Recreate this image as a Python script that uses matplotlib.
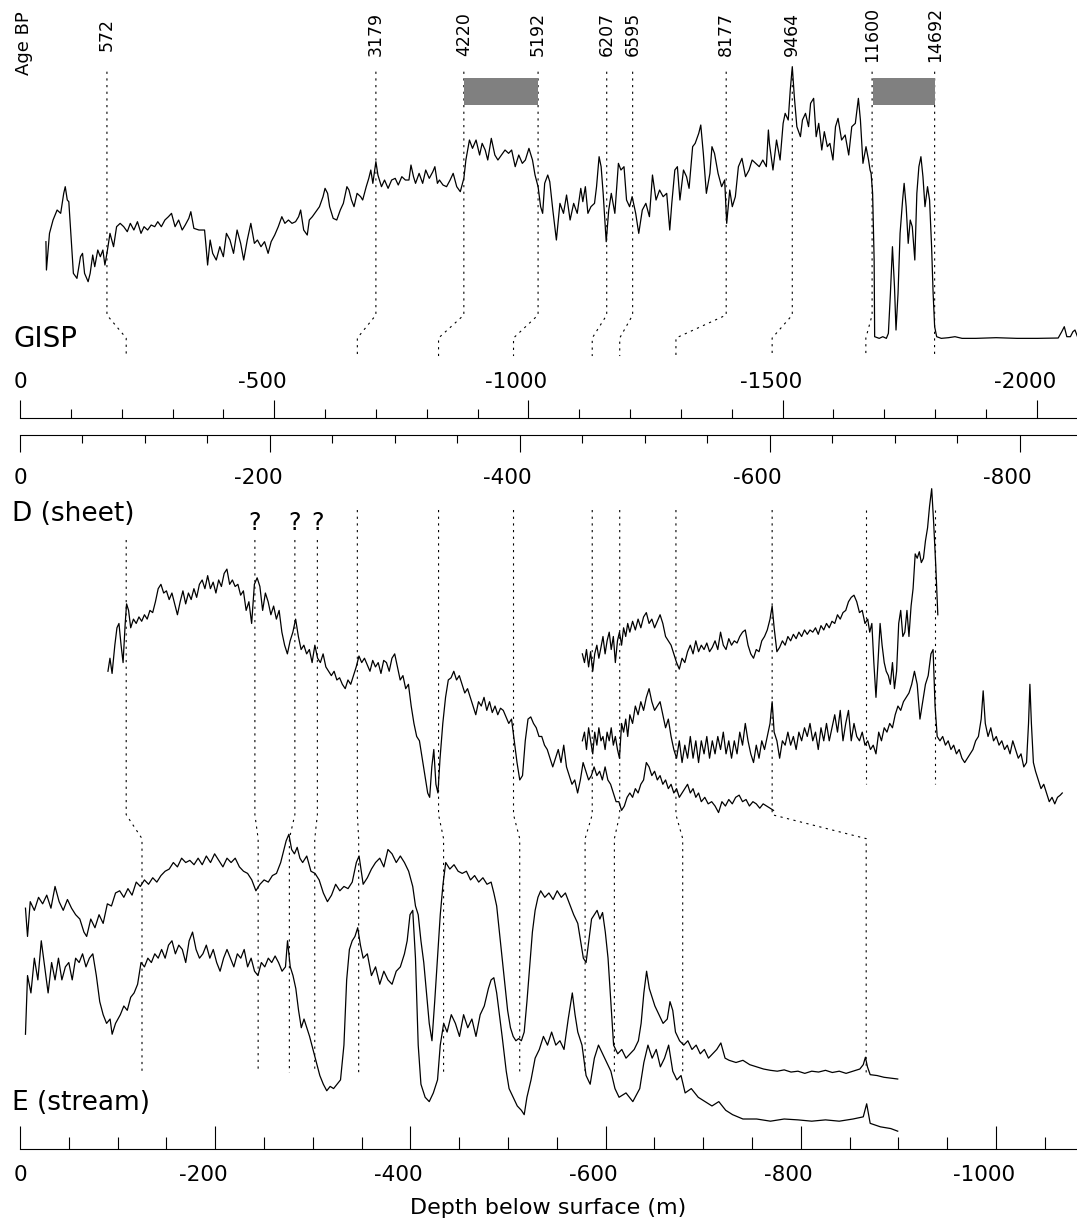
import numpy as np
import matplotlib
matplotlib.use("Agg")
import matplotlib.pyplot as plt
from matplotlib.ticker import MultipleLocator
from matplotlib.transforms import blended_transform_factory, offset_copy

# depth scales (m below surface, drawn as negative numbers)
gisp_ticks = [0, -500, -1000, -1500, -2000]
sheet_ticks = [0, -200, -400, -600, -800]
stream_ticks = [0, -200, -400, -600, -800, -1000]

# GISP age markers: age BP, GISP depth (m), matching depth in core D (m)
ages = [572, 3179, 4220, 5192, 6207, 6595, 8177, 9464, 11600, 14692]
age_gisp_depth = [171, 700, 873, 1019, 1154, 1205, 1389, 1519, 1676, 1799]
age_sheet_depth = [85, 270, 335, 395, 458, 480, 525, 602, 677, 732]
grey_bars = [(873, 1019), (1677, 1799)]

# tie points D (sheet) -> E (stream), depths in m
sheet_ties = [85, 188, 220, 238, 270, 335, 395, 458, 480, 525, 602, 677, 732]
stream_ties = [125, 244, 276, 302, 347, 434, 512, 579, 609, 679, 867, None, None]
late_start = [85, 188, 220, 238]
question_ties = [188, 220, 238]

# GISP record (depth m, relative value)
gisp_curve = [
    (51, 45.5), (52, 37), (58, 48), (65, 52), (73, 55), (80, 54), (86, 60), (89, 62), (93, 58), (96, 57.5),
    (100, 48), (105, 36), (112, 34.5), (119, 41), (123, 42), (127, 36), (134, 33.5), (138, 36), (143, 41.5), (147, 38),
    (153, 43), (158, 41), (163, 43), (167, 38.5), (171, 42), (177, 48), (184, 44), (190, 50), (197, 51), (204, 50),
    (211, 48.5), (217, 51), (224, 49), (231, 51.5), (238, 48), (244, 50), (251, 49), (258, 50.5), (265, 50), (271, 51.5),
    (278, 50), (285, 52), (292, 53), (298, 54), (305, 50), (312, 52), (319, 49), (325, 50.5), (332, 52.5), (336, 54.5),
    (342, 49.5), (352, 49), (363, 49), (366, 44), (369, 38.5), (374, 46), (379, 42), (386, 40), (393, 44), (400, 41),
    (406, 48), (413, 46), (420, 42), (427, 49), (434, 45), (440, 40), (447, 46), (454, 51), (461, 45), (467, 46),
    (474, 44), (481, 45.5), (488, 42), (494, 45.5), (501, 47.5), (508, 50), (515, 53), (521, 51), (528, 52), (535, 51),
    (542, 51.5), (548, 53), (552, 55), (558, 49), (565, 47.5), (569, 52), (575, 53), (582, 54.5), (589, 56), (596, 59),
    (600, 61.5), (605, 60), (609, 56), (616, 52.5), (623, 52), (630, 55), (636, 57), (643, 62), (647, 61), (652, 58),
    (657, 56), (663, 60), (670, 59), (674, 58), (681, 62), (686, 64.5), (690, 67), (694, 63), (700, 69.5), (704, 65.5),
    (711, 62), (717, 64), (724, 61.5), (731, 64), (738, 64.5), (744, 62.5), (751, 65), (758, 64), (765, 64), (769, 68.5),
    (774, 65), (778, 63), (785, 66), (792, 63), (798, 67), (805, 64.5), (812, 66.5), (816, 68), (821, 63), (825, 64),
    (832, 62.5), (839, 62), (846, 64), (852, 66), (859, 62), (866, 60.5), (873, 64.5), (877, 70), (884, 76), (890, 73.5),
    (897, 76), (904, 71.5), (909, 75), (915, 73), (920, 70), (927, 76.5), (934, 71.5), (940, 70), (947, 71.5), (954, 73),
    (961, 72), (967, 73), (974, 68), (981, 71.5), (988, 69), (994, 70), (1001, 73.5), (1008, 70), (1013, 65.5), (1019, 62),
    (1024, 56), (1028, 54), (1032, 63), (1038, 65.5), (1042, 63.5), (1048, 55), (1055, 46), (1062, 57), (1069, 54), (1075, 59.5),
    (1082, 52), (1089, 57), (1096, 54), (1103, 61.5), (1107, 57.5), (1112, 62), (1117, 54), (1123, 56), (1130, 57), (1134, 62),
    (1139, 71), (1143, 68), (1147, 60), (1153, 45.5), (1158, 55), (1163, 60), (1170, 54), (1177, 69), (1182, 67), (1188, 68),
    (1193, 58), (1199, 56), (1204, 59), (1211, 54), (1217, 48), (1224, 55), (1231, 57), (1238, 53), (1244, 65.5), (1251, 58),
    (1258, 61), (1265, 59), (1272, 60), (1278, 49), (1282, 57), (1288, 67), (1293, 68), (1298, 58), (1305, 67), (1311, 65),
    (1316, 61.5), (1323, 74), (1328, 75), (1335, 78), (1339, 80.5), (1344, 72), (1350, 60), (1357, 66), (1361, 74), (1366, 72),
    (1373, 66), (1380, 62), (1386, 64), (1390, 51), (1396, 61), (1401, 56), (1407, 59), (1413, 68), (1420, 70.5), (1427, 65),
    (1434, 67), (1440, 70), (1447, 69), (1454, 68), (1461, 70), (1468, 68), (1472, 79), (1474, 75), (1481, 67), (1488, 76),
    (1495, 70), (1501, 81), (1505, 84), (1511, 82), (1515, 91), (1519, 98), (1523, 89), (1528, 80), (1535, 77), (1539, 82),
    (1545, 84), (1551, 80), (1555, 87), (1561, 88.5), (1566, 77), (1571, 81), (1577, 73), (1582, 78.5), (1588, 74), (1593, 75),
    (1599, 70), (1604, 80), (1609, 82.5), (1616, 76), (1623, 77.5), (1630, 71.5), (1636, 80), (1643, 81), (1649, 88.5), (1653, 82),
    (1658, 69), (1664, 74), (1669, 70), (1672, 67), (1674, 66), (1677, 60), (1680, 40), (1681, 17), (1690, 16.5), (1697, 17),
    (1704, 16.5), (1708, 18), (1712, 30), (1716, 44), (1720, 32), (1723, 19), (1727, 30), (1731, 48), (1736, 58), (1739, 63),
    (1743, 56), (1747, 45), (1751, 52), (1755, 50), (1760, 40), (1764, 60), (1768, 68), (1772, 71), (1776, 65), (1780, 56),
    (1785, 62), (1789, 58), (1793, 44), (1796, 30), (1799, 20), (1803, 17), (1812, 16.5), (1826, 16.7), (1839, 17), (1853, 16.5),
    (1880, 16.5), (1920, 16.7), (1961, 16.5), (2001, 16.5), (2042, 16.6), (2049, 18.5), (2054, 20), (2059, 17), (2066, 17), (2071, 18.5),
    (2075, 19), (2080, 17),
]

# core D (sheet): three records (depth m, relative value)
sheet_a = [
    (70.4, 56), (72.0, 59), (73.7, 55.5), (75.9, 62), (77.6, 66), (79.2, 67), (80.9, 62), (82.5, 58), (84.2, 67), (85.3, 71.5),
    (86.9, 70), (88.6, 66), (90.8, 68), (93.0, 67), (95.2, 68.5), (97.4, 67.5), (99.6, 69), (101.8, 68), (104.0, 70), (106.2, 69.5),
    (108.4, 72), (110.6, 75), (112.8, 76), (115.0, 74), (117.2, 74.5), (119.4, 72.5), (121.6, 74), (123.8, 71.5), (126.0, 69), (128.2, 72),
    (130.4, 74.5), (132.6, 71.5), (134.8, 74), (137.0, 72.5), (139.2, 75), (141.4, 73), (143.6, 76), (145.8, 77), (148.0, 75), (150.2, 78),
    (152.4, 75), (154.6, 76.5), (156.8, 74), (159.0, 77), (161.2, 75.5), (163.4, 78.5), (165.6, 79.5), (167.8, 76), (170.0, 77), (172.2, 75.5),
    (174.4, 76), (176.6, 73.5), (178.8, 74.5), (181.0, 70), (183.2, 72), (185.4, 67), (187.6, 76), (189.8, 77.5), (192.0, 75.5), (194.2, 70),
    (196.4, 74), (198.6, 72), (200.8, 69), (203.0, 71), (205.2, 68), (207.4, 70), (209.6, 65), (211.8, 62), (214.0, 60), (216.2, 63),
    (218.4, 65), (220.6, 68), (222.8, 64), (225.0, 61), (227.2, 62), (229.4, 60), (231.6, 61), (233.8, 58), (236.0, 62), (238.2, 59),
    (240.4, 58), (242.6, 60), (244.8, 57), (247.0, 56), (249.2, 55), (251.4, 56), (253.6, 54), (255.8, 54.5), (258.0, 53), (260.3, 52),
    (262.5, 54), (264.7, 53), (266.9, 55), (269.1, 57), (271.3, 59.5), (273.5, 58), (275.7, 59), (277.9, 57.5), (280.1, 56), (282.3, 58.5),
    (284.5, 57), (286.7, 58), (288.9, 55.5), (291.1, 58.5), (293.3, 58), (295.5, 56), (297.7, 59), (299.9, 60), (302.1, 57), (304.3, 54),
    (306.5, 55), (308.7, 52), (310.9, 53), (313.1, 48), (315.3, 44), (317.5, 41), (319.7, 40), (321.9, 36), (324.1, 32), (326.3, 28),
    (327.9, 27), (329.6, 34), (331.2, 38), (332.9, 30), (334.5, 28), (336.2, 36), (338.4, 44), (340.6, 50), (342.8, 54), (345.0, 54.5),
    (347.2, 56), (349.4, 54), (351.6, 55), (353.8, 53), (356.0, 51), (358.2, 52), (360.4, 50), (362.6, 48), (364.8, 46), (367.0, 49),
    (369.2, 48), (371.4, 50), (373.6, 47), (375.8, 49), (378.0, 46.5), (380.2, 48), (382.4, 46), (384.6, 47.5), (386.8, 47), (389.0, 45.5),
    (391.2, 44), (393.4, 45), (395.6, 40), (397.8, 35), (400.0, 31), (402.2, 32), (404.4, 40), (406.6, 45), (408.8, 45.5), (411.0, 44),
    (413.2, 43), (415.4, 41), (417.6, 41), (419.8, 39), (422.0, 38), (424.2, 36), (426.4, 34), (428.6, 36), (430.8, 38), (433.0, 35),
    (435.2, 39), (437.4, 34), (439.6, 32), (441.8, 30), (444.0, 31), (446.3, 28), (448.5, 31), (450.7, 35), (452.9, 33), (455.1, 31),
    (457.3, 32), (459.5, 34), (461.7, 32), (463.9, 33), (466.1, 31), (468.3, 34), (470.5, 31), (472.7, 30), (474.9, 28), (477.1, 26),
    (479.3, 26), (481.5, 24), (483.7, 25), (485.9, 27), (488.1, 28), (490.3, 27), (492.5, 29), (494.7, 28), (496.9, 30), (499.1, 31),
    (501.3, 35), (503.5, 34), (505.7, 32), (507.9, 33), (510.1, 31), (512.3, 32), (514.5, 30), (516.7, 31), (518.9, 29), (521.1, 30),
    (523.3, 28), (525.5, 29), (527.7, 27), (529.9, 28), (532.1, 29), (534.3, 30), (536.5, 28), (538.7, 29), (540.9, 27), (543.1, 28),
    (545.3, 26), (548.1, 27), (550.8, 25.5), (553.6, 26), (556.3, 25), (559.1, 23.5), (561.8, 26), (564.6, 25), (567.3, 26.5), (570.1, 25.5),
    (572.8, 27), (575.6, 27.5), (578.3, 26), (581.1, 26.5), (583.8, 25), (586.6, 26), (589.3, 25.5), (592.1, 24.5), (594.8, 25.5), (597.6, 25),
    (600.3, 24.5), (603.1, 24),
]

sheet_b = [
    (450.1, 60), (451.8, 58), (453.4, 61), (455.1, 57), (456.7, 60.5), (458.4, 56), (460.0, 60), (461.7, 62), (463.3, 59), (465.0, 61.5),
    (466.6, 64), (468.3, 60), (469.9, 63), (471.6, 65), (473.2, 61), (474.9, 64), (476.5, 58), (478.2, 63), (479.8, 65), (481.5, 62),
    (483.1, 66), (484.8, 64), (486.4, 67), (488.1, 65), (490.3, 67.5), (492.5, 65.5), (494.7, 68), (496.9, 66), (499.1, 68.5), (501.3, 69.5),
    (503.5, 67), (505.7, 68), (507.9, 66), (510.1, 67.5), (512.3, 69), (514.5, 67), (516.7, 64), (518.9, 63), (521.1, 62), (523.3, 60),
    (525.5, 58), (527.7, 56.5), (529.9, 59), (532.1, 58), (534.3, 60.5), (536.5, 62), (538.7, 60), (540.9, 63), (543.1, 60.5), (545.3, 62),
    (547.5, 61), (549.7, 62.5), (551.9, 60.5), (554.1, 61.5), (556.3, 63), (558.5, 61), (560.7, 65), (562.9, 62), (565.1, 61), (567.3, 63.5),
    (569.5, 62), (571.7, 63), (573.9, 62.5), (576.1, 64), (578.3, 65), (580.5, 65.5), (582.7, 62), (584.9, 60), (587.1, 59), (589.3, 61),
    (591.5, 60.5), (593.7, 63), (595.9, 64), (598.1, 65.5), (600.3, 68), (602.0, 71), (603.6, 66), (605.8, 60.5), (608.0, 61.5), (610.2, 63),
    (612.4, 62), (614.6, 64), (616.8, 63), (619.0, 64.5), (621.2, 63.5), (623.4, 65), (625.6, 64), (627.9, 65.5), (630.1, 64.5), (632.3, 65.5),
    (634.5, 65), (636.7, 66), (638.9, 64.5), (641.1, 66.5), (643.3, 65.5), (645.5, 67), (647.7, 66), (649.9, 67.5), (652.1, 67), (654.3, 69),
    (656.5, 68), (658.7, 69.5), (660.9, 70), (663.1, 72), (665.3, 73), (667.5, 73.5), (669.7, 72), (671.9, 69.5), (674.1, 70), (676.3, 67),
    (678.5, 68), (680.1, 65), (681.8, 67), (683.4, 58), (685.1, 50), (686.7, 58), (688.4, 67), (690.0, 62), (691.7, 58), (693.3, 56),
    (695.0, 55), (696.6, 53), (698.3, 58), (699.9, 52), (701.6, 56), (703.3, 67), (704.9, 70), (706.6, 64), (708.2, 65), (709.9, 70),
    (711.5, 64), (713.2, 71), (714.8, 75), (716.5, 83), (718.1, 82), (719.8, 83.5), (721.4, 81), (723.1, 82), (724.7, 86), (726.4, 89),
    (728.0, 94), (729.7, 98), (731.3, 90), (733.0, 80), (734.6, 69),
]

sheet_c = [
    (450.1, 40), (451.8, 42), (453.4, 38), (455.1, 43), (456.7, 40), (458.4, 37), (460.0, 42), (461.7, 39), (463.3, 43), (465.0, 40),
    (466.6, 41), (468.3, 38), (469.9, 42), (471.6, 40), (473.2, 43), (474.9, 39), (476.5, 41), (478.2, 38), (479.8, 36), (481.5, 44),
    (483.1, 42), (484.8, 45), (486.4, 41), (488.1, 46), (490.3, 44), (492.5, 48), (494.7, 46), (496.9, 49), (499.1, 47), (501.3, 50),
    (503.5, 52), (505.7, 49), (507.9, 47), (510.1, 48), (512.3, 49), (514.5, 46), (516.7, 43), (518.9, 45), (521.1, 41), (523.3, 38),
    (525.5, 36), (527.7, 40), (529.9, 35), (532.1, 39), (534.3, 36), (536.5, 41), (538.7, 36), (540.9, 40), (543.1, 35), (545.3, 40),
    (547.5, 37), (549.7, 41), (551.9, 36), (554.1, 40), (556.3, 37), (558.5, 41), (560.7, 38), (562.9, 42), (565.1, 37), (567.3, 40),
    (569.5, 36), (571.7, 40), (573.9, 37), (576.1, 42), (578.3, 39), (580.5, 44), (582.7, 40), (584.9, 37), (587.1, 35), (589.3, 39),
    (591.5, 36), (593.7, 40), (595.9, 38), (598.1, 41), (600.3, 44), (602.0, 49), (603.6, 42), (605.8, 40), (608.0, 36), (610.2, 40),
    (612.4, 39), (614.6, 42), (616.8, 39), (619.0, 41), (621.2, 38), (623.4, 42), (625.6, 40), (627.9, 43), (630.1, 41), (632.3, 44),
    (634.5, 40), (636.7, 42), (638.9, 38), (641.1, 43), (643.3, 40), (645.5, 44), (647.7, 40), (649.9, 43), (652.1, 46), (654.3, 42),
    (656.5, 47), (658.7, 40), (660.9, 44), (663.1, 47), (665.3, 40), (667.5, 44), (669.7, 41), (671.9, 40), (674.1, 42), (676.3, 39),
    (678.5, 40), (680.7, 38), (682.9, 39), (685.1, 37), (687.3, 42), (689.5, 40), (691.7, 43), (693.9, 42), (696.1, 44), (698.3, 43),
    (700.5, 46), (702.7, 48), (704.9, 47), (707.1, 49), (709.3, 50), (711.5, 51), (713.7, 53), (715.9, 56), (718.1, 53), (720.3, 45),
    (722.5, 49), (724.7, 53), (726.9, 55), (729.1, 60), (730.8, 61), (732.4, 48), (734.1, 41), (736.3, 40), (738.5, 41), (740.7, 39),
    (742.9, 40), (745.1, 38), (747.3, 39), (749.5, 37), (751.7, 38), (753.9, 36), (756.1, 35), (758.3, 36), (760.5, 37), (762.7, 38),
    (764.9, 40), (767.1, 41), (769.3, 45), (770.9, 51.5), (772.6, 44), (774.8, 41), (777.0, 43), (779.2, 40), (781.4, 41), (783.6, 39),
    (785.8, 40), (788.0, 38), (790.2, 39), (792.4, 37), (794.6, 40), (796.8, 38), (799.0, 36), (801.2, 37), (803.4, 34), (805.6, 35),
    (807.2, 44), (808.3, 53), (809.5, 44), (811.1, 35), (812.8, 33), (815.0, 31), (817.2, 29), (819.4, 30), (821.6, 28), (823.8, 26),
    (826.0, 27), (828.2, 25.5), (830.4, 27), (832.6, 27.5), (834.2, 28),
]

# core E (stream): two records
stream_upper_depth = [
    5.6, 7.7, 10.5, 14.7, 19.0, 23.2, 27.4, 31.7, 35.9, 40.1,
    44.3, 48.6, 52.8, 57.0, 61.3, 65.5, 68.3, 72.5, 76.8, 81.0,
    85.2, 89.5, 93.7, 97.9, 102.1, 106.4, 110.6, 114.8, 119.1, 123.3,
    127.5, 131.7, 136.0, 140.2, 144.4, 148.7, 152.9, 157.1, 161.3, 165.6,
    169.8, 174.0, 178.3, 182.5, 186.7, 190.9, 195.2, 199.4, 203.6, 207.9,
    212.1, 216.3, 220.5, 224.8, 229.0, 233.2, 237.5, 241.7, 245.9, 250.1,
    254.4, 258.6, 262.8, 267.1, 269.9, 272.7, 275.5, 278.3, 281.2, 284.0,
    286.8, 289.6, 293.8, 298.1, 302.3, 306.5, 310.8, 315.0, 319.2, 323.4,
    327.7, 331.9, 336.1, 340.4, 344.6, 347.4, 351.6, 355.9, 360.1, 364.3,
    368.6, 372.8, 377.0, 381.2, 385.5, 389.7, 393.9, 398.2, 402.4, 405.2,
    408.0, 410.8, 413.7, 416.5, 419.3, 422.1, 424.9, 427.8, 430.6, 433.4,
    436.2, 440.4, 444.7, 448.9, 453.1, 457.4, 461.6, 465.8, 470.0, 474.3,
    478.5, 482.7, 485.5, 488.4, 491.2, 494.0, 496.8, 499.6, 502.5, 505.3,
    508.1, 510.9, 513.7, 516.6, 519.4, 522.2, 525.0, 527.8, 530.7, 533.5,
    537.7, 541.9, 546.2, 550.4, 554.6, 558.8, 563.1, 567.3, 571.5, 574.4,
    577.2, 580.0, 582.8, 585.6, 588.5, 591.3, 594.1, 596.9, 599.7, 602.5,
    605.4, 608.2, 612.4, 616.6, 620.9, 625.1, 629.3, 633.6, 636.4, 639.2,
    642.0, 644.8, 647.7, 650.5, 654.7, 658.9, 663.2, 666.0, 668.8, 671.6,
    675.8, 680.1, 684.3, 688.5, 692.8, 697.0, 701.2, 705.4, 709.7, 713.9,
    718.1, 722.4, 726.6, 733.6, 740.7, 747.7, 754.8, 761.8, 768.9, 775.9,
    783.0, 790.0, 797.1, 804.1, 811.2, 818.2, 825.3, 832.3, 839.4, 846.4,
    853.5, 860.5, 864.0, 866.2, 868.3, 871.1, 878.1, 885.2, 892.2, 899.3,
]
stream_upper_val = [
    1.5, -5, 3, 1, 4, 2.5, 4.5, 1.5, 6.5, 3,
    1, 3.5, 1.5, 0, -1, -4, -5, -1, -3, 0,
    -2, 2.5, 2, 5, 5.5, 4, 6, 4.5, 7.5, 6.5,
    8, 7, 8.5, 7.5, 9, 10, 10.5, 12, 11, 13,
    12, 12.5, 11.5, 13, 11.5, 13.5, 12, 14, 12.5, 11,
    13, 12, 13, 11, 10, 9.5, 8, 5.5, 7, 8,
    7.5, 9, 9.5, 12, 14.5, 17, 18.5, 15, 14, 15.5,
    13, 12, 13.5, 10, 9.5, 8, 5, 3, 4.5, 7,
    5.5, 6.5, 6, 7.5, 12, 13.5, 7, 8.5, 10.5, 12,
    13, 11, 15, 14, 12, 13.5, 12, 10, 6.5, 2,
    0, -6, -11, -18, -25, -29, -20, -10, 0, 7,
    12, 10.5, 11.5, 10, 9.5, 10, 8, 9, 7.5, 8.5,
    7, 7.5, 5, 2, -4, -10, -16, -22, -26, -28,
    -29, -28.5, -29, -27, -20, -12, -4, 1, 4, 5.5,
    4, 5, 3.5, 5.5, 4, 5, 2.5, 0, -2, -6,
    -10, -11, -6, -1, 0, 1, -1, 0.5, -4, -10,
    -20, -30, -32, -31, -33, -32, -31, -29, -25, -18,
    -13, -17, -19, -21, -23, -25, -24, -20, -22, -27,
    -29, -30, -29, -31, -30, -32, -31, -33, -32, -31,
    -29.5, -33, -33.5, -34, -33.5, -34.5, -35, -35.5, -35.8, -36,
    -35.7, -36.2, -36, -36.5, -36, -36.2, -35.8, -36.3, -36, -36.5,
    -36, -35.5, -34.5, -32.8, -35, -36.8, -37, -37.4, -37.6, -37.8,
]

stream_lower_depth = [
    5.6, 7.7, 11.2, 14.7, 18.3, 21.8, 25.3, 28.8, 32.4, 35.9,
    39.4, 42.9, 46.5, 50.0, 53.5, 57.0, 60.6, 64.1, 67.6, 71.1,
    74.6, 78.2, 81.7, 85.2, 88.7, 92.3, 94.4, 97.9, 102.8, 106.4,
    109.9, 113.4, 116.9, 120.5, 124.0, 127.5, 131.0, 134.6, 138.1, 141.6,
    145.1, 148.7, 152.2, 155.7, 159.2, 162.7, 166.3, 169.8, 173.3, 176.8,
    180.4, 183.9, 187.4, 190.9, 194.5, 198.0, 201.5, 205.0, 208.6, 212.1,
    215.6, 219.1, 222.7, 226.2, 229.7, 233.2, 236.8, 240.3, 243.8, 247.3,
    250.8, 254.4, 257.9, 261.4, 264.9, 268.5, 272.0, 274.1, 276.9, 279.7,
    282.6, 285.4, 288.2, 291.0, 293.8, 296.7, 300.2, 303.7, 307.2, 310.8,
    314.3, 317.8, 321.3, 324.9, 328.4, 331.9, 334.7, 337.5, 340.4, 343.2,
    346.0, 348.8, 351.6, 355.9, 360.1, 364.3, 368.6, 372.8, 377.0, 381.2,
    385.5, 389.7, 393.9, 396.7, 399.6, 402.4, 405.2, 408.0, 410.8, 415.1,
    419.3, 423.5, 427.8, 430.6, 434.1, 437.6, 441.9, 446.1, 450.3, 454.5,
    458.8, 463.0, 467.2, 471.5, 475.7, 479.9, 482.7, 485.5, 488.4, 491.2,
    494.0, 498.2, 501.1, 505.3, 509.5, 513.7, 516.6, 519.4, 523.6, 527.8,
    532.1, 536.3, 540.5, 544.7, 549.0, 553.2, 557.4, 561.7, 565.9, 568.7,
    571.5, 575.8, 580.0, 584.2, 588.5, 592.7, 596.9, 601.1, 605.4, 609.6,
    613.8, 620.9, 627.9, 635.0, 639.2, 643.4, 647.7, 651.9, 656.1, 660.4,
    664.6, 668.8, 673.0, 677.3, 681.5, 687.8, 694.9, 701.9, 709.0, 716.0,
    723.1, 730.1, 740.7, 754.8, 768.9, 783.0, 797.1, 811.2, 825.3, 839.4,
    853.5, 864.0, 867.5, 871.1, 881.6, 892.2, 899.3,
]
stream_lower_val = [
    -27.5, -14, -18, -10, -15, -6, -12, -18, -11, -15,
    -10, -15, -12, -11, -15, -10, -11, -9, -12, -10,
    -9, -14, -20, -23, -25, -24, -27.5, -25, -23, -21,
    -22, -19, -18, -16, -11, -12, -10, -11, -9, -10,
    -8, -10, -7, -6, -9, -7, -8, -11, -6, -4,
    -8, -10, -9, -7, -10, -8, -11, -13, -10, -8,
    -10, -12, -9, -10, -8, -12, -10, -13, -14, -11,
    -12, -10, -11, -9.5, -11, -13, -12, -6, -12, -14,
    -17, -22, -26, -24, -26, -28, -31, -34, -37, -39,
    -40.5, -39.5, -40, -39, -38, -30, -15, -8, -6, -5,
    -3, -7, -10, -9, -14, -12, -16, -13, -15, -16,
    -13, -12, -9, -6, 0, 1, -10, -30, -39, -42,
    -43, -41, -38, -30, -25, -27, -23, -25, -28, -23,
    -26, -24, -28, -23, -21, -17, -15, -14.5, -18, -23,
    -28, -36, -40, -42, -44, -45, -46, -42, -38, -33,
    -31, -28, -30, -27, -30, -29, -31, -24, -18, -23,
    -27, -30, -37, -39, -33, -30, -32, -34, -36, -40,
    -42, -41, -43, -40, -34, -30, -33, -31, -35, -33,
    -30, -36, -38, -37, -41, -40, -42, -43, -44, -43,
    -45, -46, -47, -47, -47.5, -47, -47.2, -47.5, -47.2, -47.5,
    -47, -46.5, -43.5, -48, -48.8, -49.2, -49.8,
]

# ---- layout (figure is 1077 x 1220 px) --------------------------------------
W, H, LEFT = 1077, 1220, 20


def box(top, bottom):
    return [LEFT / W, 1 - bottom / H, (W - LEFT) / W, (bottom - top) / H]


fig = plt.figure(figsize=(W / 100, H / 100), dpi=100)

ax_g = fig.add_axes(box(0, 417.7))
ax_g.set_xlim(0, -2079)
ax_g.set_ylim(-7.3, 118)
ax_g.axis("off")

ax_gs = fig.add_axes(box(415.7, 417.7))
ax_ds = fig.add_axes(box(433.3, 435.3))
ax_e = fig.add_axes(box(480, 1149))
ax_d = fig.add_axes(box(480, 1149))
for ax in (ax_d, ax_e):
    ax.set_ylim(-53.9, 100)
ax_d.set_xlim(0, -846)
ax_d.axis("off")


def scale(ax, xmax, ticks, minor, direction, major_len, minor_len, label_dy):
    ax.set_xlim(0, xmax)
    ax.set_facecolor("none")
    for side in ("top", "left", "right"):
        ax.spines[side].set_visible(False)
    ax.spines["bottom"].set_linewidth(0.8)
    ax.set_yticks([])
    ax.set_xticks(ticks)
    ax.xaxis.set_minor_locator(MultipleLocator(minor))
    ax.tick_params(axis="x", which="both", direction=direction, width=0.8,
                   labelbottom=False, top=False)
    ax.tick_params(axis="x", which="major", length=major_len)
    ax.tick_params(axis="x", which="minor", length=minor_len)
    base = blended_transform_factory(ax.transData, ax.transAxes)
    for t in ticks:
        tr = offset_copy(base, fig=fig, x=-12 if t < 0 else 0, y=label_dy, units="dots")
        ax.text(t, 0, str(t), transform=tr, ha="center", va="baseline", fontsize=15.5)


scale(ax_gs, -2079, gisp_ticks, 100, "in", 12.7, 6.3, 29.4)
scale(ax_ds, -846, sheet_ticks, 50, "out", 12.5, 5.8, -48.5)
scale(ax_e, -1083, stream_ticks, 50, "in", 16.8, 8.4, -31.8)


def to_other(x, src, dst):
    disp = src.transData.transform((x, 0))
    return dst.transData.inverted().transform(disp)[0]


dot = dict(color="black", lw=0.8, ls=(0, (2, 4)), zorder=1)
curve = dict(color="black", lw=0.9, zorder=3)

# ---- GISP panel -------------------------------------------------------------
g = np.array(gisp_curve)
ax_g.plot(-g[:, 0], g[:, 1], **curve)
for age, gd, sd in zip(ages, age_gisp_depth, age_sheet_depth):
    xl = to_other(-sd, ax_d, ax_g)
    ax_g.plot([-gd, -gd, xl, xl], [96.5, 23.5, 16.6, 11.2], **dot)
    ax_g.text(-gd, 107.8, str(age), rotation=90, ha="center", va="center", fontsize=12.5)
for a, b in grey_bars:
    ax_g.fill_between([-a, -b], 86.5, 94.5, color="#808080", lw=0, zorder=2)
ax_g.text(-7.9, 105, "Age BP", rotation=90, ha="center", va="center", fontsize=13)
ax_g.text(12.8, 13.9, "GISP", ha="left", va="baseline", fontsize=20)

# ---- D (sheet) and E (stream) -----------------------------------------------
for d, e in zip(sheet_ties, stream_ties):
    top = 86.2 if d in late_start else 93.1
    xd = to_other(-d, ax_d, ax_e)
    if e is None:
        ax_e.plot([xd, xd], [top, 30.1], **dot)
    else:
        ax_e.plot([xd, xd, -e, -e], [top, 23.0, 17.5, -36.4], **dot)

for rec in (sheet_a, sheet_b, sheet_c):
    r = np.array(rec)
    ax_d.plot(-r[:, 0], r[:, 1], **curve)
for q in question_ties:
    ax_d.text(-q, 88.5, "?", ha="center", va="baseline", fontsize=17)
ax_d.text(6.4, 90.6, "D (sheet)", ha="left", va="baseline", fontsize=19)

ax_e.plot(-np.array(stream_upper_depth), stream_upper_val, **curve)
ax_e.plot(-np.array(stream_lower_depth), stream_lower_val, **curve)
ax_e.text(8.2, -45, "E (stream)", ha="left", va="baseline", fontsize=19)
ax_e.text(0.5, 0, "Depth below surface (m)", ha="center", va="baseline", fontsize=16,
          transform=offset_copy(ax_e.transAxes, fig=fig, y=-64.5, units="dots"))

fig.savefig("out.png", dpi=100)
